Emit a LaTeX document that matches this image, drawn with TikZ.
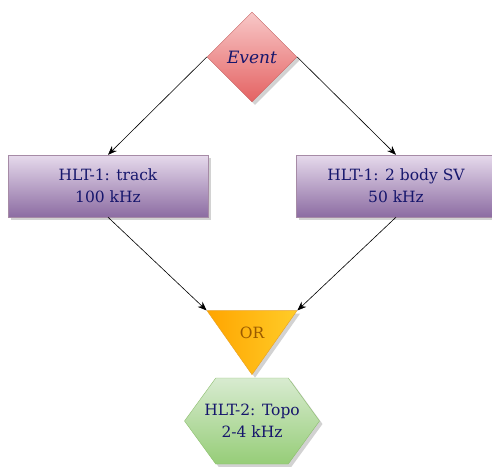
\documentclass[tikz,border=0pt]{standalone}
\usepackage{fontspec}
\setmainfont{DejaVu Serif}
\usetikzlibrary{shapes.geometric,shapes.symbols,shadows,arrows.meta}
\definecolor{txt}{HTML}{16166C}
\definecolor{ortxt}{HTML}{9A5A00}
\tikzset{
  base/.style={inner sep=0pt, align=center, text=txt, font=\fontsize{15.5}{22}\selectfont,
    drop shadow={shadow xshift=3pt, shadow yshift=-3pt, fill=black!35, opacity=0.5}},
  eventbox/.style={base, shape=diamond, minimum width=90pt, minimum height=90pt, font=\fontsize{17}{22}\selectfont\itshape,
    draw={rgb,255:red,200;green,100;blue,100}, top color={rgb,255:red,248;green,200;blue,200}, bottom color={rgb,255:red,228;green,98;blue,98}},
  hltbox/.style={base, shape=rectangle, minimum width=200pt, minimum height=62pt,
    draw=violet!30!gray!70, top color={rgb,255:red,230;green,218;blue,236}, bottom color={rgb,255:red,140;green,108;blue,162}},
  orbox/.style={base, shape=isosceles triangle, shape border rotate=270, isosceles triangle stretches,
    minimum width=90pt, minimum height=64pt, text height=17pt, text depth=0pt, draw={rgb,255:red,230;green,160;blue,40},
    left color={rgb,255:red,255;green,165;blue,0}, right color={rgb,255:red,255;green,204;blue,40}, text=ortxt},
  hexbox/.style={base, shape=signal, signal to=east and west, signal pointer angle=108,
    minimum width=135pt, minimum height=86pt, draw={rgb,255:red,140;green,190;blue,110},
    top color={rgb,255:red,216;green,235;blue,208}, bottom color={rgb,255:red,150;green,205;blue,120}},
  conn/.style={-{Stealth[length=9pt,width=7pt]}, black, line width=0.6pt}
}
\begin{document}
\begin{tikzpicture}[x=1pt,y=-1pt]
\useasboundingbox (0,0) rectangle (492,466);
\node[eventbox] (ev) at (252,57) {Event};
\node[hltbox] (trk) at (108,186) {HLT-1: track\\100 kHz};
\node[hltbox] (sv) at (396,186) {HLT-1: 2 body SV\\50 kHz};
\node[hexbox] (topo) at (252,421) {\makebox[0pt]{HLT-2: Topo}\\\makebox[0pt]{2-4 kHz}};
\node[orbox] (or) at (252,330) {OR};
\draw[conn] (ev.west) -- (trk.north);
\draw[conn] (ev.east) -- (sv.north);
\draw[conn] (trk.south) -- (or.right corner);
\draw[conn] (sv.south) -- (or.left corner);
\end{tikzpicture}
\end{document}
